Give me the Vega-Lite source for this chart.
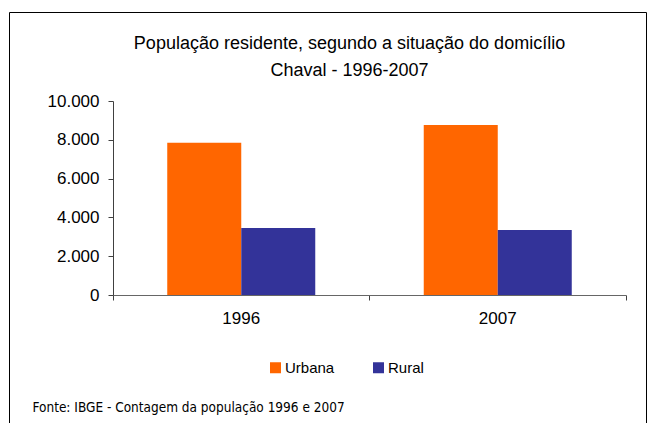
{
  "$schema": "https://vega.github.io/schema/vega-lite/v6.json",
  "width": 637,
  "height": 411,
  "autosize": {"type": "none"},
  "padding": {"left": 9, "top": 12, "right": 2, "bottom": 0},
  "background": "white",
  "config": {
    "view": {"stroke": "#000000", "strokeWidth": 1},
    "font": "Liberation Sans"
  },
  "title": {
    "text": ["População residente, segundo a situação do domicílio", "Chaval - 1996-2007"],
    "fontSize": 18,
    "fontWeight": "normal",
    "font": "Liberation Sans",
    "color": "#000000",
    "anchor": "middle",
    "frame": "group",
    "offset": -67.5,
    "dx": 22,
    "lineHeight": 27
  },
  "data": {
    "values": [
      {"ano": "1996", "situacao": "Urbana", "populacao": 7851},
      {"ano": "1996", "situacao": "Rural", "populacao": 3454},
      {"ano": "2007", "situacao": "Urbana", "populacao": 8763},
      {"ano": "2007", "situacao": "Rural", "populacao": 3351}
    ]
  },
  "mark": {"type": "bar"},
  "encoding": {
    "x": {
      "field": "ano",
      "type": "nominal",
      "scale": {"range": [104, 617], "paddingInner": 0, "paddingOuter": 0},
      "axis": {
        "orient": "bottom",
        "offset": -128,
        "bandPosition": 1,
        "tickExtra": true,
        "labelDx": -128.25,
        "labelAngle": 0,
        "labelFontSize": 17,
        "labelColor": "#000000",
        "labelPadding": 10,
        "domainColor": "#666666",
        "tickColor": "#404040",
        "tickSize": 5,
        "grid": false,
        "title": "Fonte: IBGE - Contagem da população 1996 e 2007",
        "titleX": 23,
        "titleY": 112,
        "titleAlign": "left",
        "titleBaseline": "middle",
        "titleFont": "DejaVu Sans Condensed",
        "titleFontSize": 13.5,
        "titleFontWeight": "normal",
        "titleColor": "#000000"
      }
    },
    "xOffset": {
      "field": "situacao",
      "type": "nominal",
      "sort": ["Urbana", "Rural"],
      "scale": {"paddingInner": 0, "paddingOuter": 0.733}
    },
    "y": {
      "field": "populacao",
      "type": "quantitative",
      "scale": {"domain": [0, 10000], "range": [283, 89], "nice": false},
      "axis": {
        "orient": "left",
        "offset": -104,
        "values": [0, 2000, 4000, 6000, 8000, 10000],
        "labelExpr": "replace(format(datum.value, ','), ',', '.')",
        "grid": false,
        "domainColor": "#404040",
        "tickColor": "#404040",
        "tickSize": 5,
        "labelFontSize": 17,
        "labelColor": "#000000",
        "labelPadding": 9,
        "title": null
      }
    },
    "color": {
      "field": "situacao",
      "type": "nominal",
      "sort": ["Urbana", "Rural"],
      "scale": {"domain": ["Urbana", "Rural"], "range": ["#FF6600", "#333399"]},
      "legend": {
        "orient": "none",
        "legendX": 259,
        "legendY": 348,
        "direction": "horizontal",
        "title": null,
        "symbolType": "square",
        "symbolSize": 121,
        "symbolStrokeWidth": 0,
        "symbolOpacity": 1,
        "labelFontSize": 15,
        "labelFont": "Liberation Sans",
        "labelColor": "#000000",
        "labelOffset": 2,
        "columnPadding": 36
      }
    }
  }
}
